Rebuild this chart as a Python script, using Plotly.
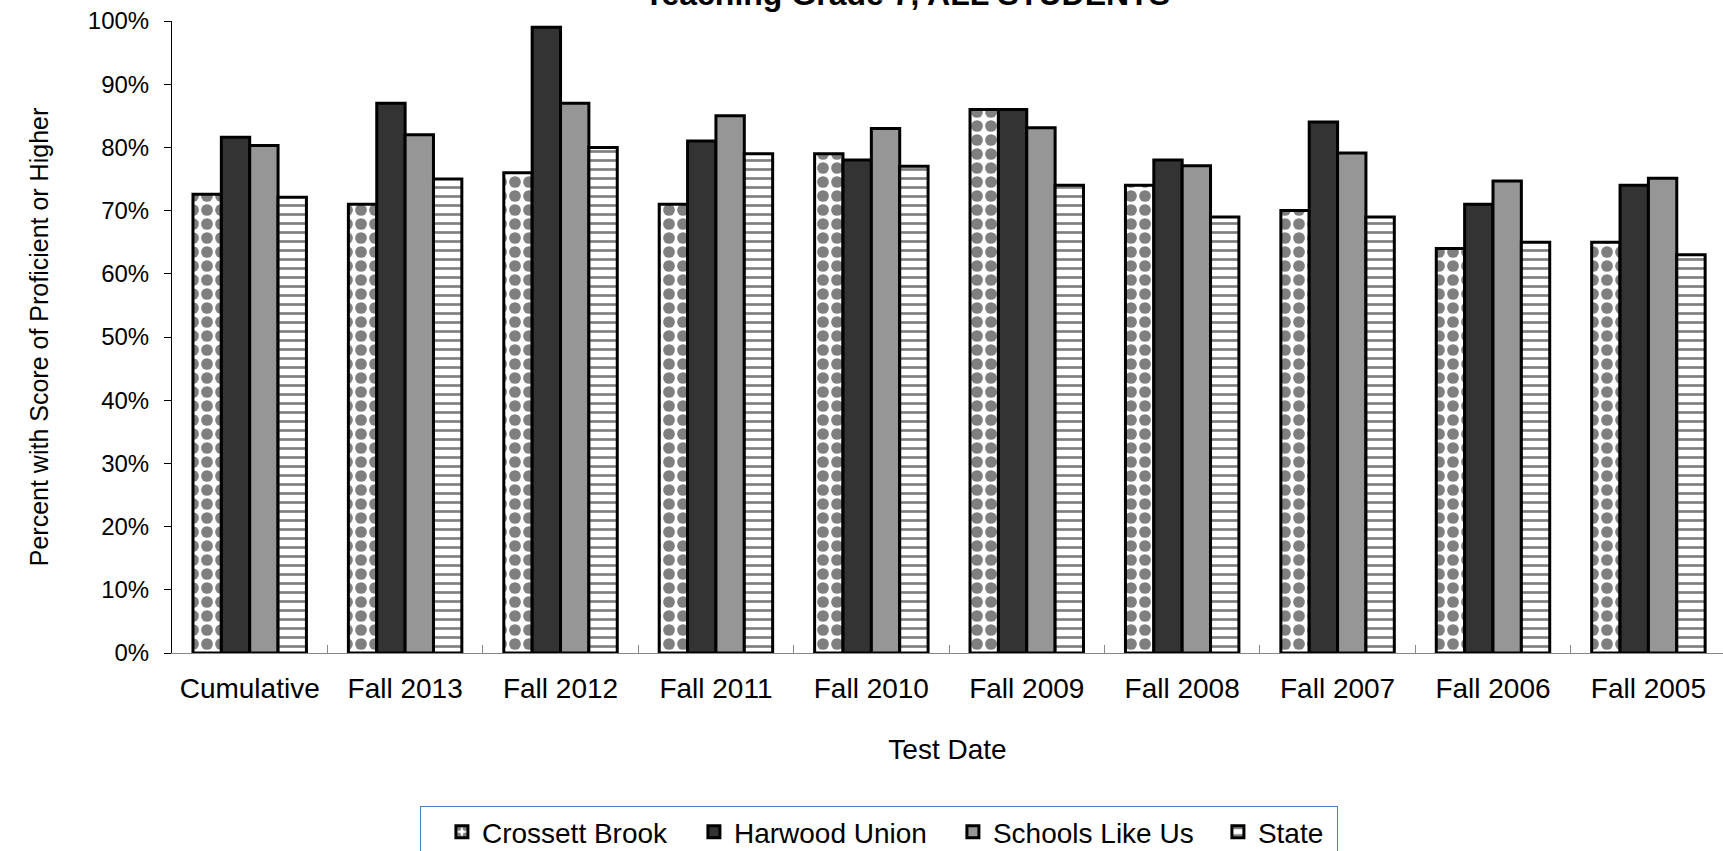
import plotly.graph_objects as go

# categorias y valores (proporcion de alumnos proficient o mas)
fechas = ["Cumulative", "Fall 2013", "Fall 2012", "Fall 2011", "Fall 2010",
          "Fall 2009", "Fall 2008", "Fall 2007", "Fall 2006", "Fall 2005"]
crossett_brook = [0.726, 0.71, 0.76, 0.71, 0.79, 0.86, 0.74, 0.70, 0.64, 0.65]
harwood_union = [0.816, 0.87, 0.99, 0.81, 0.78, 0.86, 0.78, 0.84, 0.71, 0.74]
schools_like_us = [0.803, 0.82, 0.87, 0.85, 0.83, 0.831, 0.771, 0.791, 0.747, 0.751]
state = [0.721, 0.75, 0.80, 0.79, 0.77, 0.74, 0.69, 0.69, 0.65, 0.63]

fuente = "Arial, Liberation Sans, sans-serif"
borde = dict(color="black", width=3)

fig = go.Figure()

fig.add_trace(go.Bar(
    x=fechas, y=crossett_brook, name="Crossett Brook", legendwidth=207,
    marker=dict(color="white", line=borde,
                pattern=dict(shape=".", fgcolor="black", bgcolor="white",
                             size=14, solidity=0.55))
))
fig.add_trace(go.Bar(
    x=fechas, y=harwood_union, name="Harwood Union", legendwidth=214,
    marker=dict(color="#333333", line=borde)
))
fig.add_trace(go.Bar(
    x=fechas, y=schools_like_us, name="Schools Like Us", legendwidth=220,
    marker=dict(color="#969696", line=borde)
))
fig.add_trace(go.Bar(
    x=fechas, y=state, name="State", legendwidth=74,
    marker=dict(color="white", line=borde,
                pattern=dict(shape="-", fgcolor="black", bgcolor="white",
                             size=9, solidity=0.3))
))

fig.update_layout(
    width=1723, height=851,
    margin=dict(l=172, r=0, t=21, b=198),
    paper_bgcolor="white", plot_bgcolor="white",
    barmode="group", bargap=0.27, bargroupgap=0,
    font=dict(family=fuente, color="black"),
    title=dict(text="<b>Teaching Grade 7, ALL STUDENTS</b>",
               font=dict(size=32, family=fuente, color="black"),
               x=0.5265, xanchor="center", xref="container",
               y=0.994, yanchor="bottom", yref="container"),
    showlegend=True,
    legend=dict(orientation="h", xref="container", yref="container",
                x=0.2438, xanchor="left", y=0.0529, yanchor="top",
                bordercolor="#4a7ebb", borderwidth=1,
                font=dict(size=28, family=fuente), traceorder="normal",
                title=dict(text="\u00a0\u00a0", side="left", font=dict(size=19.5))),
)

fig.update_xaxes(
    range=[-0.5, 9.48], showline=True, linecolor="#868686", linewidth=1,
    ticks="inside", tickson="boundaries", ticklen=8, tickcolor="#868686",
    tickfont=dict(size=28), showgrid=False, ticklabelstandoff=10,
    title=dict(text="Test Date", font=dict(size=28), standoff=36),
)
fig.update_yaxes(
    range=[0, 1], dtick=0.1, tickformat=".0%", showline=True,
    linecolor="black", linewidth=1, ticks="outside", ticklen=7,
    tickcolor="black", tickfont=dict(size=24), showgrid=False,
    zeroline=False, ticklabelstandoff=10,
    title=dict(text="Percent with Score of Proficient or Higher",
               font=dict(size=25), standoff=32),
)

# quitar el margen del body para que la figura empiece en la esquina
fig.write_html("out.html", config={"displayModeBar": False},
               post_script="document.body.style.margin='0';")
